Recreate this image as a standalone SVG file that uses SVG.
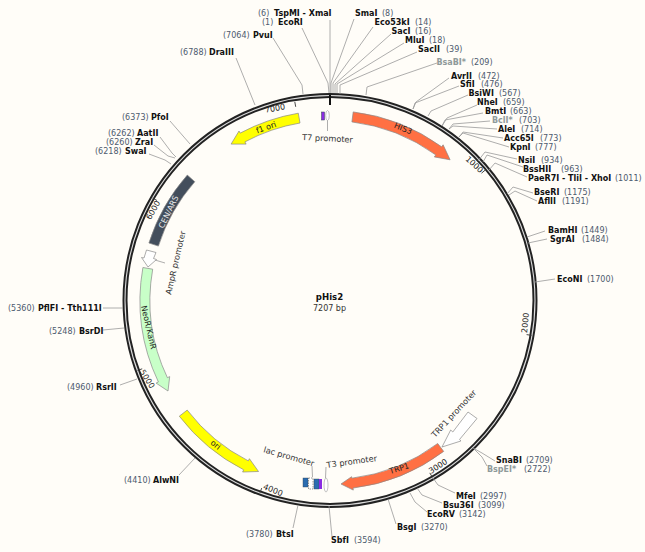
<svg xmlns="http://www.w3.org/2000/svg" width="645" height="552" viewBox="0 0 645 552">
<style>
text{font-family:"DejaVu Sans","Liberation Sans",sans-serif;font-size:8px}
.n{font-weight:bold;fill:#111}
.g{font-weight:bold;fill:#8f9a9a}
.p{fill:#4d5a6e}
.l{fill:#333;font-size:8.2px}
.t{fill:#222;font-size:8px}
#leaders polyline,#leaders line{fill:none;stroke:#999;stroke-width:.8}
.f{stroke:#888;stroke-width:.7}
</style>
<rect width="645" height="552" fill="#fffdf8"/>
<g id="backbone">
<circle cx="330" cy="300.5" r="205" fill="none" stroke="#222" stroke-width="5"/>
<circle cx="330" cy="300.5" r="205" fill="none" stroke="#ddd" stroke-width="1.1"/>
<line x1="330" y1="95" x2="330" y2="105" stroke="#111" stroke-width="2"/>
<path d="M294.8 101.9L295.7 106.8M485.4 169.9L481.5 173.2M531.5 335.4L526.6 334.6M432.3 477.2L429.8 472.9M260 492.8L261.7 488.1M137.5 370.5L142.2 368.8M152.6 198L157 200.5" stroke="#333" stroke-width=".9" fill="none"/>
<text class="t" transform="translate(275.5 111) rotate(-10)" text-anchor="middle">7000</text>
<text class="t" transform="translate(472.5 166.5) rotate(42)" text-anchor="middle">1000</text>
<text class="t" transform="translate(528 323) rotate(-85)" text-anchor="middle">2000</text>
<text class="t" transform="translate(439.5 468.5) rotate(-33)" text-anchor="middle">3000</text>
<text class="t" transform="translate(272 492.5) rotate(22)" text-anchor="middle">4000</text>
<text class="t" transform="translate(145 380.5) rotate(58)" text-anchor="middle">5000</text>
<text class="t" transform="translate(155.5 211.5) rotate(-60)" text-anchor="middle">6000</text>
</g>
<g id="leaders">
<polyline points="330,20 330,84 330,93"/>
<polyline points="302,28 328,83 329,93"/>
<polyline points="354,19 331,83 331,93"/>
<polyline points="373,27 333,83 333,93"/>
<polyline points="391,34 335,84 335,93"/>
<polyline points="404,43 337,84 337,93"/>
<polyline points="417,52 340,85 340,94"/>
<polyline points="437,63 367,87 366,95"/>
<polyline points="273,38 302,85 303,94"/>
<polyline points="236,58 255,105"/>
<polyline points="170,121 190,144"/>
<polyline points="160,137 172,153 176,157"/>
<polyline points="154,145 168,156 175,158"/>
<polyline points="149,154 165,160 171,164"/>
<polyline points="449,78 416,102 413,109"/>
<polyline points="459,86 415,103 413,109"/>
<polyline points="468,95 431,111 428,116"/>
<polyline points="477,105 447,118 442,126"/>
<polyline points="483,113 445,120 442,126"/>
<polyline points="490,121 453,124 449,129"/>
<polyline points="497,129 453,126 449,129"/>
<polyline points="503,138 463,132 459,137"/>
<polyline points="509,147 463,133 459,137"/>
<polyline points="517,159 485,152 478,161"/>
<polyline points="523,167 487,155 483,162"/>
<polyline points="527,177 495,163 489,170"/>
<polyline points="533,193 513,187 507,194"/>
<polyline points="537,201 515,191 509,195"/>
<polyline points="545,231 527,237"/>
<polyline points="547,239 528,243"/>
<polyline points="555,279 535,282"/>
<polyline points="495,461 482,453 473,448"/>
<polyline points="487,466 482,457 474,449"/>
<polyline points="455,493 438,485 433,478"/>
<polyline points="442,503 422,495 417,488"/>
<polyline points="427,512 415,502 410,493"/>
<polyline points="396,524 388,499"/>
<polyline points="332,537 329,506"/>
<polyline points="293,528 298,505"/>
<polyline points="179,475 195,458"/>
<polyline points="120,385 137,379"/>
<polyline points="103,330 124,328"/>
<polyline points="103,308 123,308"/>
<polyline points="165,263 155,260"/>
<polyline points="327.5,120 327.5,131"/>
<polyline points="312,466 312.5,477"/>
<polyline points="326,467 325.5,478"/>
</g>
<g id="HIS3"><path class="f" fill="#ff7043" d="M353.2 111.9A190 190 0 0 1 441.7 146.8L443.1 144.8L450.1 159.8L434.3 156.9L435.8 154.9A180 180 0 0 0 351.9 121.9Z"/><text class="t" transform="translate(402 131) rotate(22)" text-anchor="middle">HIS3</text></g>
<g id="f1ori"><path class="f" fill="#ffff00" d="M298.3 113.2A190 190 0 0 0 240.2 133.1L239 131L231.1 144.1L246.1 144.1L244.9 141.9A180 180 0 0 1 300 123Z"/><text class="t" transform="translate(267 130) rotate(-20)" text-anchor="middle">f1 ori</text></g>
<g id="CENARS"><path class="f" fill="#434e5c" d="M187.3 175.1A190 190 0 0 0 148.9 243L158.4 246.1A180 180 0 0 1 194.8 181.7Z"/><text transform="translate(171 213) rotate(-64)" text-anchor="middle" fill="#e8e8e8">CEN/ARS</text></g>
<g id="AmpR"><polygon class="f" fill="#fff" points="146.5,250 156,252.5 153.5,258.5 156.5,259.5 148,267 141.5,257.5 144,258"/><text class="l" transform="translate(171 295) rotate(-77)">AmpR promoter</text></g>
<g id="NeoR"><path class="f" fill="#c8ffc8" d="M142.9 267.5A190 190 0 0 0 158.4 382L156.1 383.1L168 391L169.7 376.6L167.4 377.7A180 180 0 0 1 152.7 269.2Z"/><text class="t" transform="translate(146 328) rotate(77)" text-anchor="middle">NeoR/KanR</text></g>
<g id="ori"><path class="f" fill="#ffff00" d="M179.3 416.2A190 190 0 0 0 243.7 469.8L242.6 472L258.5 471.5L249.4 458.7L248.3 460.9A180 180 0 0 1 187.2 410.1Z"/><text class="t" transform="translate(214 447) rotate(38)" text-anchor="middle">ori</text></g>
<g id="TRP1"><path class="f" fill="#ff7043" d="M443.7 451.4A189 189 0 0 1 353 488.1L353.3 490.1L341 484L351.6 476.7L351.8 478.2A179 179 0 0 0 437.7 443.5Z"/><text class="t" transform="translate(400 471) rotate(-17)" text-anchor="middle">TRP1</text></g>
<g id="TRP1p"><polygon class="f" fill="#fff" points="468,412 477,418.5 459.6,439.4 460.9,441 442,447 450.7,430 452.8,432"/><text class="l" transform="translate(435 438) rotate(-47)">TRP1 promoter</text></g>
<g id="T7"><rect x="321.5" y="112" width="3" height="8" fill="#8a2be2" stroke="#345" stroke-width=".5"/><ellipse cx="327.5" cy="115.5" rx="1.8" ry="5" fill="#fff" stroke="#999" stroke-width=".6"/><text class="l" transform="translate(302 140) rotate(3)">T7 promoter</text></g>
<g id="lac"><rect x="303" y="478" width="5" height="9" fill="#2b6cb0" stroke="#345" stroke-width=".4"/><rect x="308.5" y="478" width="4.5" height="11" fill="#fff" stroke="#555" stroke-width=".6" stroke-dasharray="1.5 1"/><rect x="314" y="479" width="5" height="10" fill="#2b6cb0" stroke="#345" stroke-width=".4"/><text class="l" transform="translate(263 452) rotate(16)">lac promoter</text></g>
<g id="T3"><rect x="319" y="479" width="3" height="10" fill="#8a2be2"/><ellipse cx="326" cy="485" rx="2" ry="7" fill="#fff" stroke="#999" stroke-width=".6"/><text class="l" transform="translate(327 468) rotate(-8)">T3 promoter</text></g>
<g id="center"><text x="329.5" y="300" text-anchor="middle" class="n" style="font-size:8.6px">pHis2</text><text x="329.5" y="310.5" text-anchor="middle" class="l" style="font-size:8px">7207 bp</text></g>
<g id="sites">
<text class="p" x="258" y="16">(6)</text><text class="n" x="274" y="16">TspMI - XmaI</text>
<text class="p" x="262" y="25">(1)</text><text class="n" x="278" y="25">EcoRI</text>
<text class="n" x="355" y="16">SmaI</text><text class="p" x="382" y="16">(8)</text>
<text class="n" x="374.5" y="25">Eco53kI</text><text class="p" x="415" y="25">(14)</text>
<text class="n" x="391.5" y="34">SacI</text><text class="p" x="415" y="34">(16)</text>
<text class="n" x="405" y="43">MluI</text><text class="p" x="429" y="43">(18)</text>
<text class="n" x="418" y="52">SacII</text><text class="p" x="446" y="52">(39)</text>
<text class="g" x="436.5" y="65">BsaBI*</text><text class="p" x="471" y="65">(209)</text>
<text class="n" x="451" y="79">AvrII</text><text class="p" x="478" y="79">(472)</text>
<text class="n" x="460" y="87">SfiI</text><text class="p" x="481" y="87">(476)</text>
<text class="n" x="468.5" y="96">BsiWI</text><text class="p" x="499" y="96">(567)</text>
<text class="n" x="477" y="105">NheI</text><text class="p" x="503" y="105">(659)</text>
<text class="n" x="485" y="114">BmtI</text><text class="p" x="510" y="114">(663)</text>
<text class="g" x="492" y="123">BclI*</text><text class="p" x="519" y="123">(703)</text>
<text class="n" x="498" y="132">AleI</text><text class="p" x="521" y="132">(714)</text>
<text class="n" x="504" y="141">Acc65I</text><text class="p" x="540" y="141">(773)</text>
<text class="n" x="510" y="150">KpnI</text><text class="p" x="535" y="150">(777)</text>
<text class="n" x="518" y="163">NsiI</text><text class="p" x="541" y="163">(934)</text>
<text class="n" x="523" y="172">BssHII</text><text class="p" x="561" y="172">(963)</text>
<text class="n" x="528" y="181">PaeR7I - TliI - XhoI</text><text class="p" x="615" y="181">(1011)</text>
<text class="n" x="534" y="195">BseRI</text><text class="p" x="564" y="195">(1175)</text>
<text class="n" x="538" y="204">AflII</text><text class="p" x="562" y="204">(1191)</text>
<text class="n" x="548" y="233">BamHI</text><text class="p" x="581" y="233">(1449)</text>
<text class="n" x="550" y="242">SgrAI</text><text class="p" x="582" y="242">(1484)</text>
<text class="n" x="557" y="282">EcoNI</text><text class="p" x="587" y="282">(1700)</text>
<text class="n" x="496" y="463">SnaBI</text><text class="p" x="526" y="463">(2709)</text>
<text class="g" x="487" y="472">BspEI*</text><text class="p" x="524" y="472">(2722)</text>
<text class="n" x="456" y="499">MfeI</text><text class="p" x="480" y="499">(2997)</text>
<text class="n" x="443" y="508">Bsu36I</text><text class="p" x="478" y="508">(3099)</text>
<text class="n" x="427" y="517">EcoRV</text><text class="p" x="459" y="517">(3142)</text>
<text class="n" x="397" y="530">BsgI</text><text class="p" x="421" y="530">(3270)</text>
<text class="n" x="331" y="543">SbfI</text><text class="p" x="354" y="543">(3594)</text>
<text class="p" x="246" y="537">(3780)</text><text class="n" x="276" y="537">BtsI</text>
<text class="p" x="124" y="483">(4410)</text><text class="n" x="153" y="483">AlwNI</text>
<text class="p" x="67" y="390">(4960)</text><text class="n" x="96" y="390">RsrII</text>
<text class="p" x="49" y="334">(5248)</text><text class="n" x="79" y="334">BsrDI</text>
<text class="p" x="8" y="311">(5360)</text><text class="n" x="38" y="311">PflFI - Tth111I</text>
<text class="p" x="95" y="154">(6218)</text><text class="n" x="125" y="154">SwaI</text>
<text class="p" x="106" y="145">(6260)</text><text class="n" x="135" y="145">ZraI</text>
<text class="p" x="108" y="136">(6262)</text><text class="n" x="137" y="136">AatII</text>
<text class="p" x="122" y="120">(6373)</text><text class="n" x="151" y="120">PfoI</text>
<text class="p" x="180" y="55">(6788)</text><text class="n" x="209" y="55">DraIII</text>
<text class="p" x="223" y="38">(7064)</text><text class="n" x="253" y="38">PvuI</text>
</g>
</svg>
